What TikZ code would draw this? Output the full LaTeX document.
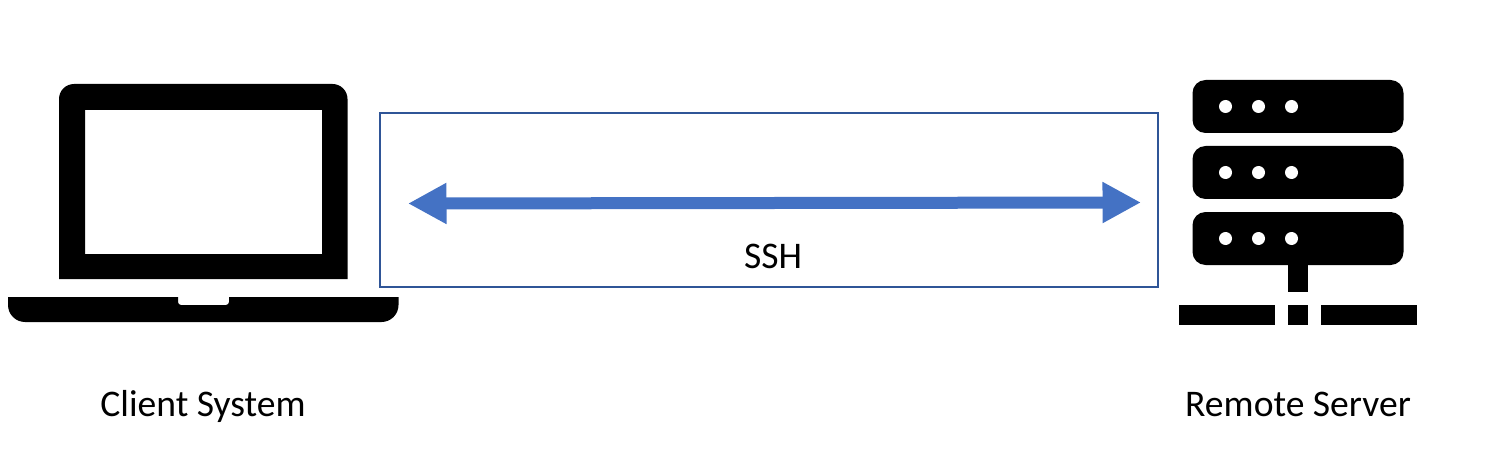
\documentclass[tikz,border=0pt]{standalone}
\usepackage{fontspec}
\setmainfont{Carlito}
\usepackage{xcolor}
\usetikzlibrary{arrows.meta}
\definecolor{boxblue}{HTML}{2F5597}
\definecolor{arrowblue}{HTML}{4472C4}
\tikzset{
	caption/.style={font=\fontsize{37.6}{44}\selectfont, inner sep=0pt, anchor=base},
	icon/.style={fill=black, draw=none},
	link/.style={line width=12pt, arrowblue, {Triangle[length=38.5pt,width=38.5pt]}-{Triangle[length=38.5pt,width=38.5pt]}}
}
\begin{document}
\begin{tikzpicture}[x=1pt,y=-1pt]
	\useasboundingbox (0,0) rectangle (1501,449);
	% draw laptop
	\fill[icon, even odd rule] (59,279) [rounded corners=15pt] -- (59,84) -- (347.5,84) [sharp corners] -- (347.5,279) -- cycle
		(85,110) rectangle (322,254);
	\fill[icon] (8,297) -- (178,297) [rounded corners=3pt] -- (178,305) -- (229,305) [sharp corners] -- (229,297) -- (398.5,297) [rounded corners=17pt] -- (398.5,322) -- (8,322) [sharp corners] -- cycle;
	% draw server
	\foreach \ytop in {80,146,212} {
		\fill[icon, rounded corners=13pt] (1192.5,\ytop) rectangle (1403.5,\ytop+53);
		\foreach \xdot in {1225.5,1258.5,1291.5}
			\fill[white] (\xdot,\ytop+26.5) circle (6.5pt);
	}
	\fill[icon] (1288,265) rectangle (1308,291.5);
	\fill[icon] (1179,304.5) rectangle (1275,324.5);
	\fill[icon] (1288,304.5) rectangle (1308,324.5);
	\fill[icon] (1321,304.5) rectangle (1417,324.5);
	% add box and arrow
	\node[draw=boxblue, line width=1.7pt, minimum width=778pt, minimum height=174pt, inner sep=0pt] (tunnel) at (769,200) {};
	\coordinate (clientend) at (408,203.5);
	\coordinate (serverend) at (1141,202.5);
	\draw[link] (clientend) -- (serverend);
	% add labels
	\node[caption] (ssh) at (773,268.5) {SSH};
	\node[caption] (client) at (203,416) {Client System};
	\node[caption] (remote) at (1298,416) {Remote Server};
\end{tikzpicture}
\end{document}
